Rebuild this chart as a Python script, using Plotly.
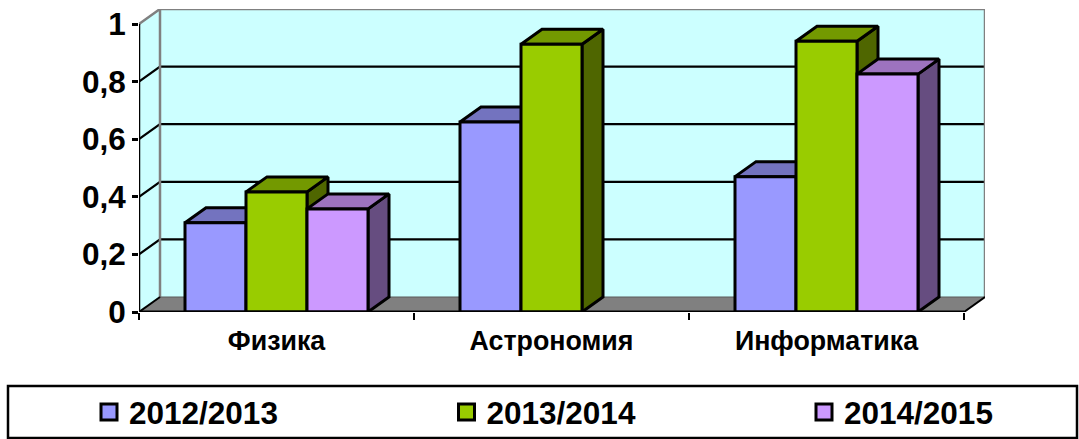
import plotly.graph_objects as go

categories = ["Физика", "Астрономия", "Информатика"]
series_names = ["2012/2013", "2013/2014", "2014/2015"]
values_2012 = [0.31, 0.66, 0.47]
values_2013 = [0.417, 0.93, 0.94]
values_2014 = [0.358, None, 0.826]
y_ticks = [0, 0.2, 0.4, 0.6, 0.8, 1]

series_values = [values_2012, values_2013, values_2014]
front_colors = ["#9999FF", "#99CC00", "#CC99FF"]
top_colors = ["#7373BF", "#739900", "#9D73BF"]
side_colors = ["#4D4D80", "#4F6600", "#664D80"]
legend_ids = ["legend", "legend2", "legend3"]
legend_left_px = [89, 446.5, 804]

W, H = 1079, 439
L, R, T, B = 139, 985, 9, 312
CAT_PX = 275.0
UNIT_PX = 288.0
DX = 21 / CAT_PX
DY = 15 / UNIT_PX
BAR_W = 61 / CAT_PX
X0, X1 = -0.5, 2.5
FONT = "Liberation Sans, Arial, sans-serif"
EDGE = dict(color="black", width=3)
GREY = dict(color="#808080", width=2.5)


def poly(xs, ys, fill, line, z, group=None):
    return go.Scatter(x=xs, y=ys, mode="lines", fill="toself", fillcolor=fill, line=line,
                      hoverinfo="skip", showlegend=False, zorder=z, cliponaxis=False,
                      legendgroup=group)


def line(xs, ys, style, z):
    return go.Scatter(x=xs, y=ys, mode="lines", line=style, hoverinfo="skip",
                      showlegend=False, zorder=z, cliponaxis=False)


fig = go.Figure()

# walls and floor
fig.add_trace(poly([X0 + DX, X1 + DX, X1 + DX, X0 + DX, X0 + DX], [DY, DY, 1 + DY, 1 + DY, DY],
                   "#CCFFFF", dict(color="rgba(0,0,0,0)", width=0), -5))
fig.add_trace(poly([X0, X0 + DX, X0 + DX, X0, X0], [0, DY, 1 + DY, 1, 0],
                   "#CCFFFF", dict(color="rgba(0,0,0,0)", width=0), -5))
fig.add_trace(poly([X0, X0 + DX, X1 + DX, X1, X0], [0, DY, DY, 0, 0],
                   "#808080", dict(color="rgba(0,0,0,0)", width=0), -5))

# gridlines on the side and back walls
for t in y_ticks[1:-1]:
    fig.add_trace(line([X0, X0 + DX, X1 + DX], [t, t + DY, t + DY],
                       dict(color="black", width=2.2), -4))
# wall outline
fig.add_trace(line([X0, X0 + DX, X1 + DX, X1 + DX], [1, 1 + DY, 1 + DY, DY], GREY, -4))
fig.add_trace(line([X0 + DX, X0 + DX], [DY, 1 + DY], GREY, -4))
fig.add_trace(line([X0 + DX, X1 + DX], [DY, DY], dict(color="#5a5a5a", width=1), -4))
fig.add_trace(line([X0, X0 + DX], [0, DY], dict(color="black", width=2), -4))
fig.add_trace(line([X1, X1 + DX], [0, DY], dict(color="black", width=2), -4))

# bars with their top and side faces, painted series by series
for s, vals in enumerate(series_values):
    name = series_names[s]
    left = [i - 1.5 * BAR_W + s * BAR_W for i in range(len(categories))]
    top_x, top_y, side_x, side_y = [], [], [], []
    for x0, v in zip(left, vals):
        if v is None:
            continue
        x1 = x0 + BAR_W
        top_x += [x0, x0 + DX, x1 + DX, x1, x0, None]
        top_y += [v, v + DY, v + DY, v, v, None]
        side_x += [x1, x1 + DX, x1 + DX, x1, x1, None]
        side_y += [0, DY, v + DY, v, 0, None]
    fig.add_trace(poly(side_x, side_y, side_colors[s], EDGE, 2 * s, name))
    fig.add_trace(poly(top_x, top_y, top_colors[s], EDGE, 2 * s, name))
    fig.add_trace(go.Bar(x=list(range(len(categories))), y=vals, width=BAR_W,
                         offset=-1.5 * BAR_W + s * BAR_W, marker_color=front_colors[s],
                         marker_line=EDGE, showlegend=False, zorder=2 * s + 1,
                         cliponaxis=False, name=name, legendgroup=name))
    fig.add_trace(go.Scatter(x=[None], y=[None], mode="markers", name=name, legendgroup=name,
                             legend=legend_ids[s],
                             marker=dict(symbol="square", size=16, color=front_colors[s],
                                         line=dict(color="black", width=3))))

# axis lines
fig.add_trace(line([X0, X1], [0, 0], dict(color="black", width=3), 20))
fig.add_trace(line([X0, X0], [0, 1], dict(color="black", width=2.5), 20))

legend_layout = {
    lid: dict(xref="paper", yref="paper", x=(px - L) / (R - L), y=(B - 412) / (B - T),
              xanchor="left", yanchor="middle", bgcolor="rgba(0,0,0,0)",
              font=dict(size=31.5, family=FONT, weight="bold"), itemsizing="trace")
    for lid, px in zip(legend_ids, legend_left_px)
}

fig.update_layout(
    width=W, height=H, autosize=False,
    margin=dict(l=L, r=W - R, t=T, b=H - B, autoexpand=False),
    paper_bgcolor="white", plot_bgcolor="rgba(0,0,0,0)",
    barmode="overlay", separators=", ",
    font=dict(family=FONT, color="black"),
    xaxis=dict(range=[X0, X1 + DX], tickmode="array", tickvals=list(range(len(categories))),
               ticktext=categories, ticks="", showgrid=False, zeroline=False, showline=False,
               tickfont=dict(size=26.8, family=FONT, weight="bold"), ticklabelstandoff=10,
               minor=dict(tickmode="array", tickvals=[-0.5, 0.5, 1.5, 2.5], ticks="outside",
                          ticklen=7, tickwidth=2, tickcolor="black", showgrid=False)),
    yaxis=dict(range=[0, 1 + DY], tickmode="array", tickvals=y_ticks, tickformat="~g", ticks="outside",
               ticklen=6, tickwidth=2.5, tickcolor="black", showgrid=False, zeroline=False,
               showline=False, tickfont=dict(size=31.5, family=FONT, weight="bold")),
    shapes=[dict(type="rect", xref="paper", yref="paper",
                 x0=(8 - L) / (R - L), x1=(1077 - L) / (R - L),
                 y0=(B - 438) / (B - T), y1=(B - 386) / (B - T),
                 line=dict(color="black", width=2.5), fillcolor="rgba(0,0,0,0)", layer="above")],
    **legend_layout,
)

fig.write_html("out.html", config=dict(displayModeBar=False),
               post_script="document.body.style.margin='0';document.body.style.overflow='hidden';")
